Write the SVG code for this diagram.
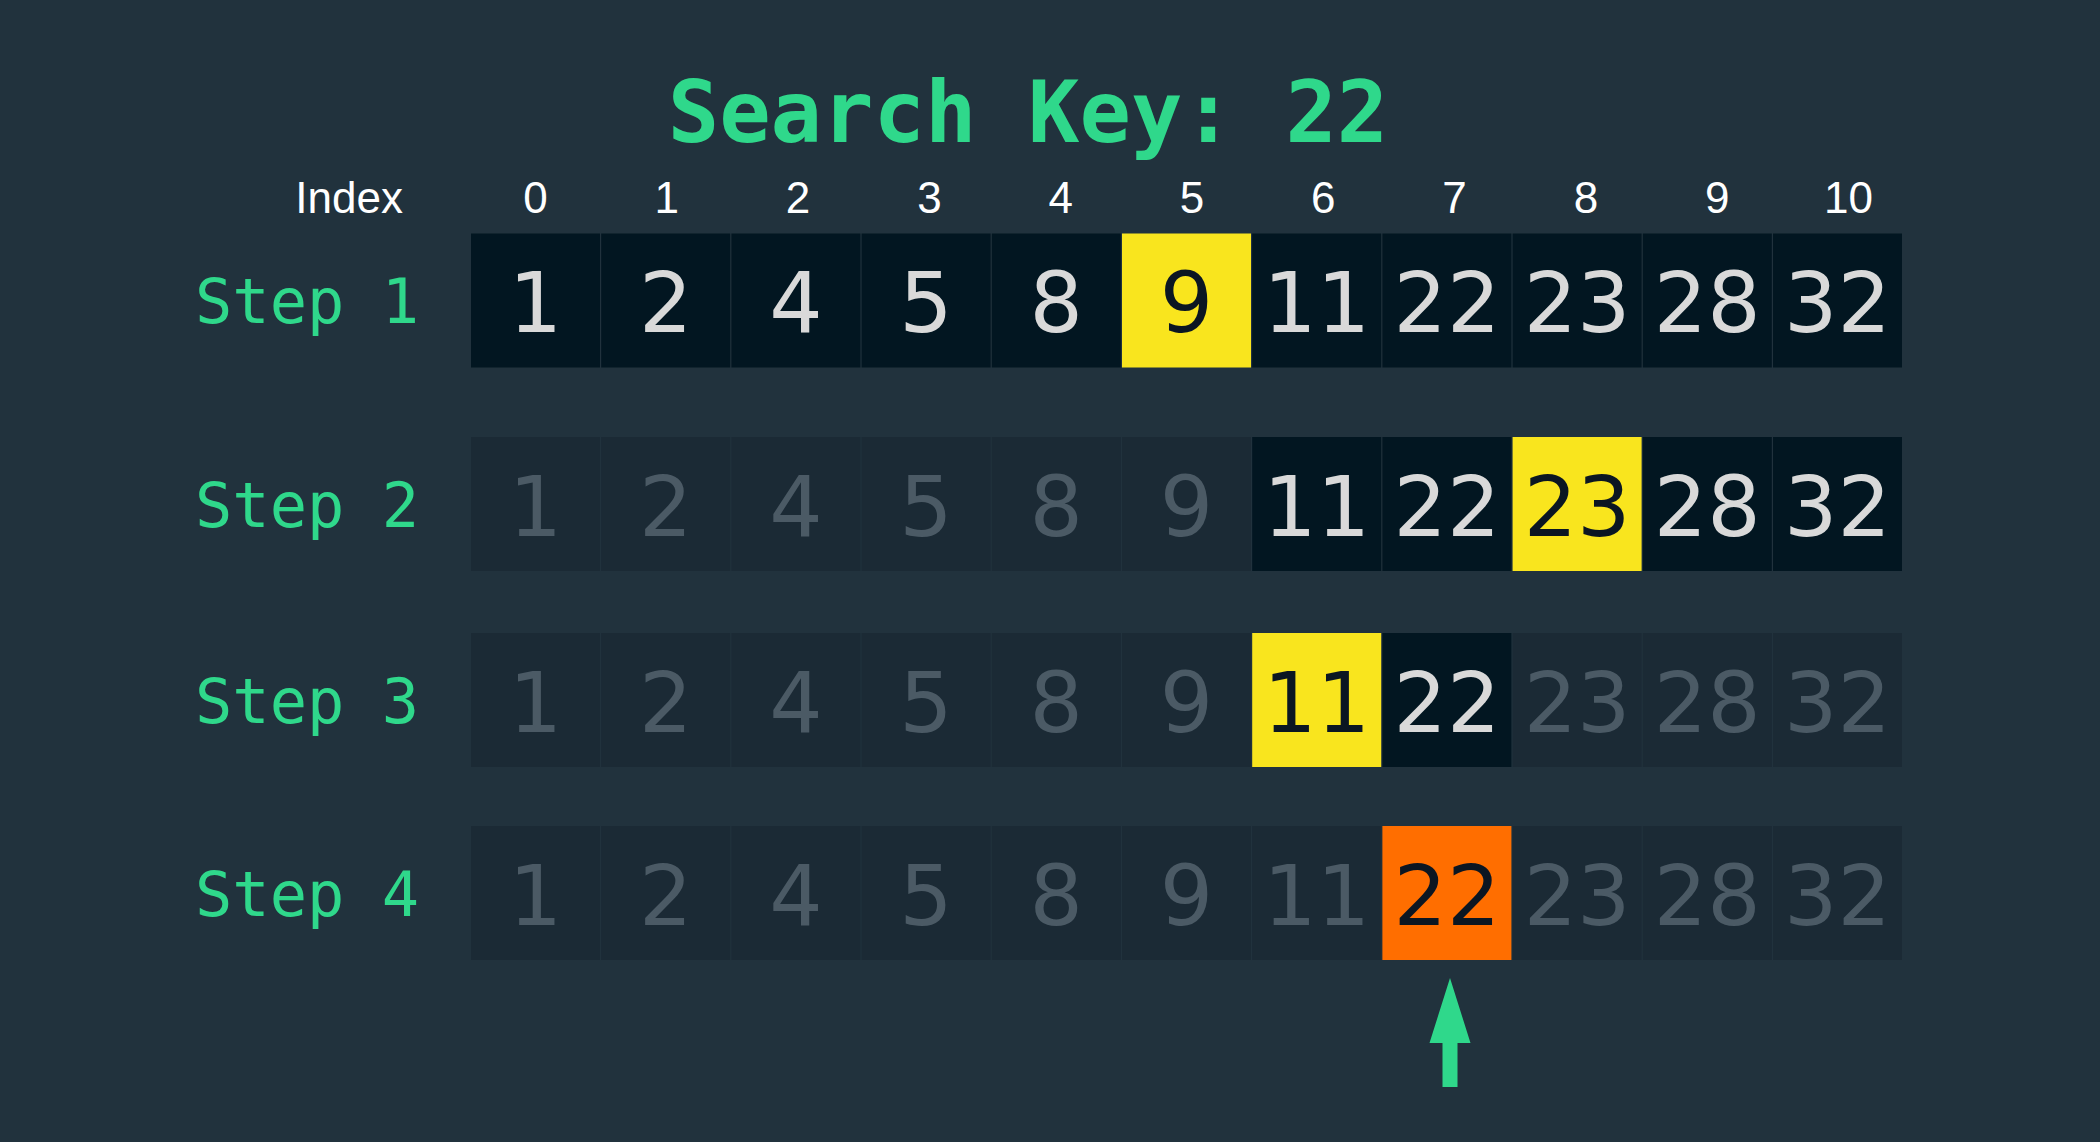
<svg xmlns="http://www.w3.org/2000/svg" width="2100" height="1142" viewBox="0 0 2100 1142">
<style>
.title{font-family:"DejaVu Sans Mono","Liberation Mono",monospace;font-weight:bold;font-size:85.5px;fill:#2fd88b;text-anchor:middle}
.idx{font-family:"Liberation Sans",Arial,sans-serif;font-size:44px;fill:#ffffff;text-anchor:middle}
.idxl{font-family:"Liberation Sans",Arial,sans-serif;font-size:44px;fill:#ffffff;text-anchor:end}
.step{font-family:"DejaVu Sans Mono","Liberation Mono",monospace;font-size:62px;fill:#2fd88b}
.num{font-family:"DejaVu Sans","Liberation Sans",sans-serif;font-size:84px;text-anchor:middle}
.d rect{fill:#021621}.d text{fill:#d9d9d9}
.f rect{fill:#1b2a35}.f text{fill:#4b5a65}
.y rect{fill:#f9e51e}.y text{fill:#0b1622}
.o rect{fill:#ff6e00}.o text{fill:#0b1622}
</style>
<rect width="2100" height="1142" fill="#21323d"/>
<g id="title"><text class="title" x="1028" y="142">Search Key: 22</text></g>
<g id="index-header">
<text class="idxl" x="403" y="213">Index</text>
<text class="idx" x="535.5" y="213">0</text>
<text class="idx" x="666.8" y="213">1</text>
<text class="idx" x="798.1" y="213">2</text>
<text class="idx" x="929.4" y="213">3</text>
<text class="idx" x="1060.7" y="213">4</text>
<text class="idx" x="1192" y="213">5</text>
<text class="idx" x="1323.3" y="213">6</text>
<text class="idx" x="1454.6" y="213">7</text>
<text class="idx" x="1585.9" y="213">8</text>
<text class="idx" x="1717.2" y="213">9</text>
<text class="idx" x="1848.5" y="213">10</text>
</g>
<g id="step1">
<text class="step" x="195" y="323">Step 1</text>
<g class="d"><rect x="471" y="233.5" width="129" height="134"/><text class="num" x="535.5" y="332">1</text></g>
<g class="d"><rect x="601.2" y="233.5" width="129" height="134"/><text class="num" x="665.7" y="332">2</text></g>
<g class="d"><rect x="731.4" y="233.5" width="129" height="134"/><text class="num" x="795.9" y="332">4</text></g>
<g class="d"><rect x="861.6" y="233.5" width="129" height="134"/><text class="num" x="926.1" y="332">5</text></g>
<g class="d"><rect x="991.8" y="233.5" width="129" height="134"/><text class="num" x="1056.3" y="332">8</text></g>
<g class="y"><rect x="1122" y="233.5" width="129" height="134"/><text class="num" x="1186.5" y="332">9</text></g>
<g class="d"><rect x="1252.2" y="233.5" width="129" height="134"/><text class="num" x="1316.7" y="332">11</text></g>
<g class="d"><rect x="1382.4" y="233.5" width="129" height="134"/><text class="num" x="1446.9" y="332">22</text></g>
<g class="d"><rect x="1512.6" y="233.5" width="129" height="134"/><text class="num" x="1577.1" y="332">23</text></g>
<g class="d"><rect x="1642.8" y="233.5" width="129" height="134"/><text class="num" x="1707.3" y="332">28</text></g>
<g class="d"><rect x="1773" y="233.5" width="129" height="134"/><text class="num" x="1837.5" y="332">32</text></g>
</g>
<g id="step2">
<text class="step" x="195" y="527">Step 2</text>
<g class="f"><rect x="471" y="437" width="129" height="134"/><text class="num" x="535.5" y="535.5">1</text></g>
<g class="f"><rect x="601.2" y="437" width="129" height="134"/><text class="num" x="665.7" y="535.5">2</text></g>
<g class="f"><rect x="731.4" y="437" width="129" height="134"/><text class="num" x="795.9" y="535.5">4</text></g>
<g class="f"><rect x="861.6" y="437" width="129" height="134"/><text class="num" x="926.1" y="535.5">5</text></g>
<g class="f"><rect x="991.8" y="437" width="129" height="134"/><text class="num" x="1056.3" y="535.5">8</text></g>
<g class="f"><rect x="1122" y="437" width="129" height="134"/><text class="num" x="1186.5" y="535.5">9</text></g>
<g class="d"><rect x="1252.2" y="437" width="129" height="134"/><text class="num" x="1316.7" y="535.5">11</text></g>
<g class="d"><rect x="1382.4" y="437" width="129" height="134"/><text class="num" x="1446.9" y="535.5">22</text></g>
<g class="y"><rect x="1512.6" y="437" width="129" height="134"/><text class="num" x="1577.1" y="535.5">23</text></g>
<g class="d"><rect x="1642.8" y="437" width="129" height="134"/><text class="num" x="1707.3" y="535.5">28</text></g>
<g class="d"><rect x="1773" y="437" width="129" height="134"/><text class="num" x="1837.5" y="535.5">32</text></g>
</g>
<g id="step3">
<text class="step" x="195" y="723">Step 3</text>
<g class="f"><rect x="471" y="633" width="129" height="134"/><text class="num" x="535.5" y="731.5">1</text></g>
<g class="f"><rect x="601.2" y="633" width="129" height="134"/><text class="num" x="665.7" y="731.5">2</text></g>
<g class="f"><rect x="731.4" y="633" width="129" height="134"/><text class="num" x="795.9" y="731.5">4</text></g>
<g class="f"><rect x="861.6" y="633" width="129" height="134"/><text class="num" x="926.1" y="731.5">5</text></g>
<g class="f"><rect x="991.8" y="633" width="129" height="134"/><text class="num" x="1056.3" y="731.5">8</text></g>
<g class="f"><rect x="1122" y="633" width="129" height="134"/><text class="num" x="1186.5" y="731.5">9</text></g>
<g class="y"><rect x="1252.2" y="633" width="129" height="134"/><text class="num" x="1316.7" y="731.5">11</text></g>
<g class="d"><rect x="1382.4" y="633" width="129" height="134"/><text class="num" x="1446.9" y="731.5">22</text></g>
<g class="f"><rect x="1512.6" y="633" width="129" height="134"/><text class="num" x="1577.1" y="731.5">23</text></g>
<g class="f"><rect x="1642.8" y="633" width="129" height="134"/><text class="num" x="1707.3" y="731.5">28</text></g>
<g class="f"><rect x="1773" y="633" width="129" height="134"/><text class="num" x="1837.5" y="731.5">32</text></g>
</g>
<g id="step4">
<text class="step" x="195" y="916">Step 4</text>
<g class="f"><rect x="471" y="826" width="129" height="134"/><text class="num" x="535.5" y="924.5">1</text></g>
<g class="f"><rect x="601.2" y="826" width="129" height="134"/><text class="num" x="665.7" y="924.5">2</text></g>
<g class="f"><rect x="731.4" y="826" width="129" height="134"/><text class="num" x="795.9" y="924.5">4</text></g>
<g class="f"><rect x="861.6" y="826" width="129" height="134"/><text class="num" x="926.1" y="924.5">5</text></g>
<g class="f"><rect x="991.8" y="826" width="129" height="134"/><text class="num" x="1056.3" y="924.5">8</text></g>
<g class="f"><rect x="1122" y="826" width="129" height="134"/><text class="num" x="1186.5" y="924.5">9</text></g>
<g class="f"><rect x="1252.2" y="826" width="129" height="134"/><text class="num" x="1316.7" y="924.5">11</text></g>
<g class="o"><rect x="1382.4" y="826" width="129" height="134"/><text class="num" x="1446.9" y="924.5">22</text></g>
<g class="f"><rect x="1512.6" y="826" width="129" height="134"/><text class="num" x="1577.1" y="924.5">23</text></g>
<g class="f"><rect x="1642.8" y="826" width="129" height="134"/><text class="num" x="1707.3" y="924.5">28</text></g>
<g class="f"><rect x="1773" y="826" width="129" height="134"/><text class="num" x="1837.5" y="924.5">32</text></g>
</g>
<g id="connectors">
<path d="M1450 978 L1470.5 1043 L1457.5 1043 L1457.5 1087 L1442.5 1087 L1442.5 1043 L1429.5 1043 Z" fill="#2fd88b"/>
</g>
</svg>
